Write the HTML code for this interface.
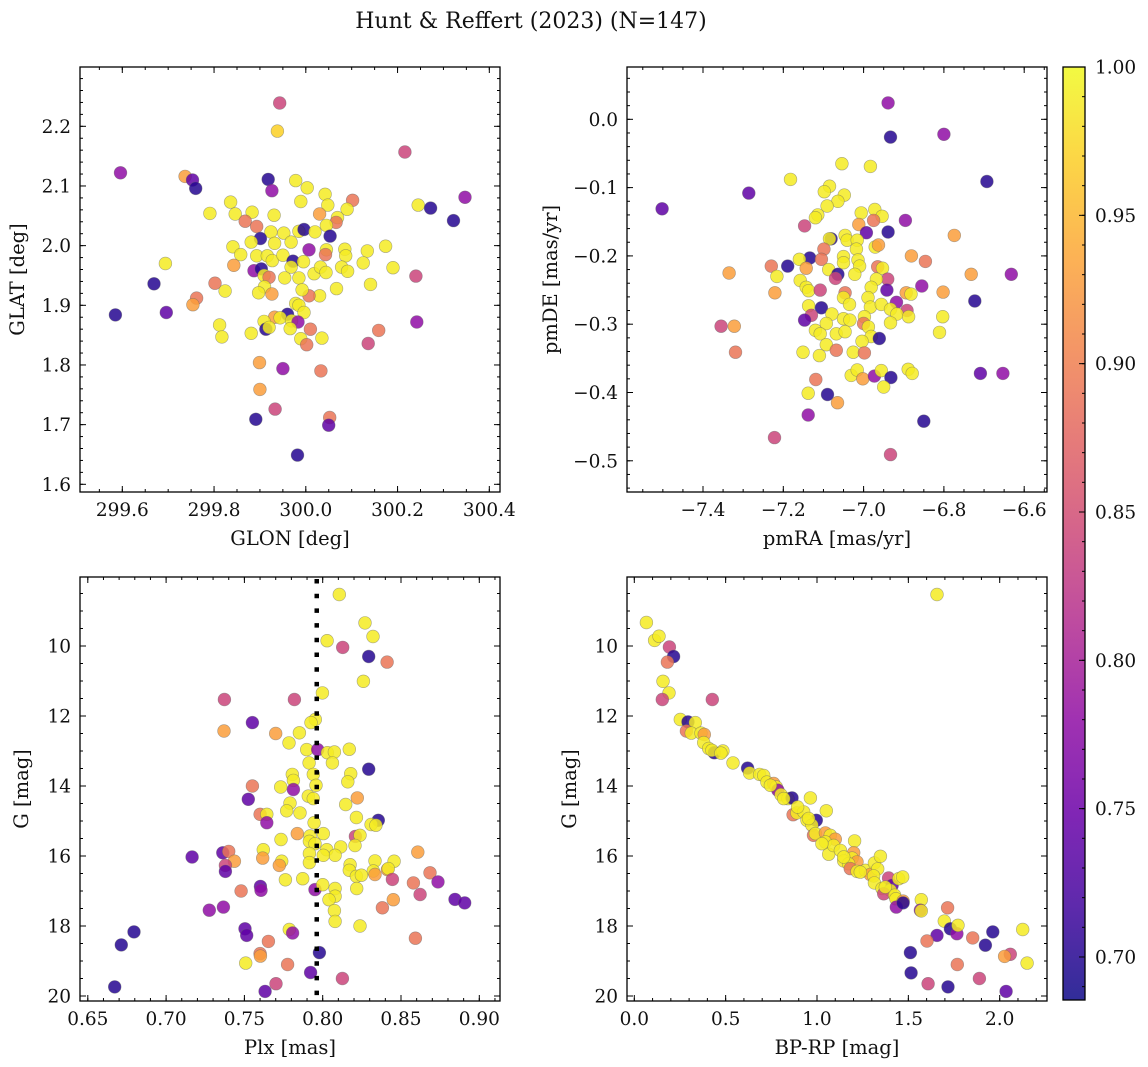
<!DOCTYPE html>
<html><head><meta charset="utf-8">
<style>
html,body{margin:0;padding:0;background:#fff;}
svg{display:block;font-family:"DejaVu Serif","Liberation Serif",serif;}
</style></head>
<body>
<svg id="fig" width="1148" height="1067" viewBox="0 0 1148 1067" xmlns="http://www.w3.org/2000/svg">
<text x="531" y="28" font-size="22" text-anchor="middle" fill="#111">Hunt &amp; Reffert (2023) (N=147)</text>
</svg>
<script>
// ---- Panel 1: GLON / GLAT ----
const glon = [299.943,299.938,300.216,299.596,299.737,299.753,299.760,299.918,299.926,300.347,300.245,300.272,300.322,299.978,300.003,300.042,300.048,300.102,299.989,299.836,299.791,299.846,299.883,299.931,299.868,299.893,300.030,300.090,300.069,300.066,300.045,299.924,299.952,299.985,299.996,300.020,300.053,299.901,299.881,299.841,299.858,299.893,299.932,299.968,300.007,300.045,300.043,300.085,300.134,300.174,300.087,300.125,300.190,299.694,299.669,299.585,299.696,299.762,299.754,299.802,299.824,299.843,299.916,299.927,299.950,299.972,299.995,299.968,299.887,299.903,299.909,299.920,299.954,299.985,300.018,300.032,300.044,300.078,300.091,300.141,300.067,300.030,300.007,299.992,299.910,299.897,299.926,300.240,300.242,299.978,299.985,299.996,299.960,299.932,299.944,299.969,299.983,299.909,299.913,299.920,299.966,299.812,299.817,299.881,300.010,299.989,300.002,300.035,300.159,300.136,299.899,299.950,300.033,299.900,299.933,299.891,300.052,300.050,299.982];
const glat = [2.239,2.192,2.157,2.122,2.116,2.110,2.096,2.111,2.092,2.081,2.068,2.063,2.042,2.109,2.097,2.086,2.068,2.076,2.074,2.073,2.054,2.053,2.056,2.051,2.041,2.032,2.053,2.061,2.047,2.039,2.034,2.023,2.021,2.024,2.027,2.023,2.016,2.012,2.006,1.998,1.985,1.983,2.004,2.006,1.993,1.993,1.985,1.994,1.991,1.999,1.983,1.971,1.963,1.970,1.936,1.884,1.888,1.912,1.901,1.937,1.924,1.967,1.983,1.975,1.984,1.974,1.973,1.964,1.958,1.961,1.950,1.947,1.946,1.946,1.953,1.964,1.955,1.964,1.957,1.935,1.928,1.916,1.916,1.926,1.931,1.921,1.919,1.949,1.872,1.903,1.900,1.888,1.885,1.880,1.879,1.874,1.872,1.873,1.860,1.863,1.861,1.867,1.847,1.853,1.860,1.844,1.834,1.845,1.858,1.836,1.804,1.794,1.790,1.759,1.726,1.709,1.712,1.699,1.649];
const prob1 = [.84,.97,.84,.78,.93,.74,.70,.70,.78,.78,.99,.70,.70,.99,.99,.99,.99,.89,.99,.99,.99,.99,.99,.99,.89,.89,.93,.99,.99,.89,.99,.99,.99,.99,.70,.99,.70,.70,.99,.99,.99,.99,.99,.99,.78,.99,.89,.99,.99,.99,.99,.99,.99,.99,.70,.70,.74,.89,.93,.89,.99,.93,.99,.99,.99,.70,.99,.99,.78,.70,.99,.89,.99,.99,.99,.99,.99,.99,.99,.99,.99,.99,.89,.99,.99,.99,.93,.84,.78,.99,.99,.99,.70,.93,.99,.99,.78,.99,.70,.99,.99,.99,.99,.99,.89,.99,.89,.99,.89,.84,.93,.78,.89,.93,.84,.70,.89,.74,.70];
// ---- Panel 2: pmRA / pmDE ----
const pmra = [-6.939,-6.933,-6.800,-6.693,-7.502,-7.286,-7.182,-7.054,-6.983,-7.085,-7.098,-7.048,-7.064,-7.091,-7.114,-7.120,-7.006,-6.972,-6.954,-6.975,-6.896,-7.147,-7.012,-6.993,-6.939,-6.774,-7.081,-7.085,-7.046,-7.041,-7.016,-6.971,-6.963,-7.018,-7.099,-7.134,-7.105,-7.160,-7.050,-7.050,-7.014,-7.010,-6.881,-6.846,-7.230,-7.189,-7.143,-7.335,-7.216,-7.087,-6.965,-6.953,-7.064,-7.070,-7.022,-6.940,-6.968,-6.732,-6.632,-7.158,-7.143,-7.137,-7.108,-7.046,-7.050,-6.981,-6.942,-6.855,-7.221,-6.894,-6.882,-6.802,-6.723,-7.035,-6.989,-6.983,-6.956,-6.918,-6.933,-6.892,-6.917,-6.888,-7.137,-7.105,-7.130,-7.147,-7.079,-7.050,-7.034,-6.998,-7.000,-6.988,-6.933,-6.803,-7.355,-7.322,-7.093,-7.120,-7.108,-7.068,-7.046,-6.981,-6.961,-6.811,-7.004,-7.093,-7.319,-7.151,-7.110,-7.068,-7.026,-6.998,-7.031,-7.016,-7.002,-6.973,-6.956,-6.932,-6.889,-6.879,-6.950,-7.119,-7.138,-7.090,-7.065,-6.709,-6.653,-7.138,-6.850,-7.222,-6.933];
const pmde = [0.024,-0.026,-0.022,-0.091,-0.131,-0.108,-0.088,-0.065,-0.069,-0.098,-0.106,-0.111,-0.120,-0.127,-0.140,-0.144,-0.137,-0.132,-0.142,-0.148,-0.148,-0.156,-0.154,-0.166,-0.165,-0.170,-0.175,-0.175,-0.170,-0.177,-0.177,-0.187,-0.184,-0.190,-0.190,-0.203,-0.205,-0.205,-0.201,-0.210,-0.206,-0.215,-0.200,-0.208,-0.215,-0.215,-0.218,-0.225,-0.230,-0.220,-0.216,-0.218,-0.227,-0.233,-0.227,-0.234,-0.234,-0.227,-0.227,-0.236,-0.246,-0.251,-0.250,-0.254,-0.261,-0.246,-0.250,-0.244,-0.254,-0.254,-0.256,-0.253,-0.266,-0.271,-0.261,-0.275,-0.271,-0.268,-0.278,-0.280,-0.285,-0.289,-0.273,-0.276,-0.287,-0.294,-0.285,-0.292,-0.294,-0.289,-0.299,-0.304,-0.298,-0.289,-0.303,-0.303,-0.299,-0.309,-0.314,-0.314,-0.311,-0.318,-0.321,-0.312,-0.325,-0.330,-0.341,-0.341,-0.346,-0.338,-0.341,-0.342,-0.375,-0.367,-0.380,-0.376,-0.368,-0.378,-0.366,-0.372,-0.392,-0.381,-0.401,-0.403,-0.415,-0.372,-0.372,-0.433,-0.442,-0.466,-0.491];
const prob2 = [.78,.70,.78,.70,.74,.74,.99,.99,.99,.99,.99,.99,.99,.99,.99,.99,.99,.99,.99,.89,.78,.84,.93,.74,.70,.93,.70,.99,.99,.99,.99,.99,.93,.99,.89,.70,.89,.99,.99,.99,.99,.99,.93,.89,.89,.70,.93,.93,.99,.99,.89,.99,.70,.84,.99,.84,.99,.93,.78,.99,.99,.99,.84,.89,.99,.99,.74,.78,.93,.93,.99,.93,.70,.99,.99,.99,.99,.78,.99,.84,.99,.99,.99,.70,.84,.74,.99,.99,.99,.99,.89,.99,.99,.99,.84,.93,.99,.99,.99,.99,.99,.99,.70,.99,.99,.99,.89,.99,.99,.89,.99,.89,.99,.99,.93,.78,.99,.70,.99,.99,.99,.89,.99,.70,.93,.74,.78,.78,.70,.84,.84];
// ---- Panel 3: Plx / G ----
const plx = [0.8106,0.8270,0.8321,0.8028,0.8128,0.8294,0.8411,0.8260,0.7372,0.7819,0.7998,0.7551,0.7370,0.7953,0.7925,0.7700,0.7851,0.7785,0.7898,0.7968,0.8030,0.8075,0.8062,0.8170,0.7913,0.8294,0.8179,0.8160,0.7940,0.7806,0.7813,0.7813,0.7732,0.7551,0.7525,0.7908,0.7940,0.7957,0.8221,0.8147,0.7791,0.7770,0.7855,0.7600,0.7643,0.7643,0.7945,0.8215,0.8355,0.8309,0.8340,0.7734,0.7838,0.7919,0.8004,0.7915,0.7951,0.8209,0.8238,0.8206,0.8115,0.8026,0.8079,0.8004,0.7915,0.7915,0.8607,0.7166,0.7362,0.7400,0.7436,0.7379,0.7379,0.7621,0.7617,0.7738,0.7723,0.8175,0.8170,0.8334,0.8323,0.8334,0.8215,0.8247,0.8413,0.8456,0.8419,0.8445,0.8685,0.8736,0.8579,0.8622,0.8845,0.8907,0.7762,0.7872,0.7479,0.7602,0.7606,0.7951,0.8000,0.8079,0.8079,0.8040,0.8217,0.8451,0.8381,0.8075,0.8079,0.8238,0.7276,0.7366,0.7504,0.7515,0.6795,0.6714,0.7653,0.7787,0.7808,0.8592,0.7600,0.7602,0.7508,0.7979,0.7776,0.7923,0.8126,0.7702,0.6672,0.7632];
const gmag3 = [8.53,9.34,9.73,9.85,10.04,10.30,10.46,11.01,11.53,11.53,11.34,12.19,12.43,12.10,12.19,12.50,12.48,12.77,12.96,12.96,13.05,13.03,13.34,12.95,13.34,13.52,13.65,13.88,13.67,13.67,13.84,14.10,14.03,14.00,14.38,14.29,14.36,13.98,14.34,14.53,14.49,14.71,14.77,14.81,14.81,15.05,15.05,14.90,14.98,15.10,15.12,15.53,15.36,15.43,15.36,15.58,15.65,15.44,15.41,15.70,15.74,15.82,15.98,15.98,15.93,16.19,15.89,16.03,15.91,15.87,16.15,16.27,16.44,15.82,16.06,16.15,16.27,16.25,16.41,16.14,16.43,16.53,16.58,16.55,16.39,16.15,16.36,16.67,16.48,16.74,16.77,17.10,17.24,17.34,16.68,16.65,17.00,16.87,16.98,16.96,16.82,16.93,17.15,17.25,16.93,17.25,17.48,17.56,17.87,18.00,17.55,17.46,18.08,18.27,18.17,18.54,18.44,18.10,18.20,18.35,18.79,18.86,19.06,18.76,19.10,19.33,19.50,19.65,19.74,19.87];
const prob3 = [.99,.99,.99,.99,.84,.70,.89,.99,.84,.84,.99,.74,.93,.99,.99,.93,.99,.99,.99,.78,.99,.99,.99,.99,.99,.70,.99,.99,.99,.99,.99,.78,.99,.89,.74,.99,.99,.99,.93,.99,.99,.99,.99,.89,.99,.78,.99,.99,.70,.99,.99,.99,.93,.99,.99,.99,.99,.84,.99,.99,.99,.99,.99,.99,.99,.99,.93,.74,.74,.89,.93,.84,.74,.99,.93,.99,.93,.99,.99,.99,.99,.93,.99,.99,.93,.99,.99,.84,.89,.78,.89,.84,.74,.74,.99,.99,.89,.74,.78,.78,.99,.99,.99,.99,.99,.93,.89,.99,.99,.99,.78,.78,.74,.74,.70,.70,.89,.99,.78,.89,.89,.93,.99,.70,.89,.74,.84,.84,.70,.74];
const plxRef = [0.7962];
// ---- Panel 4: BP-RP / G ----
const bprp = [1.657,0.066,0.111,0.135,0.192,0.215,0.181,0.157,0.190,0.153,0.427,0.252,0.294,0.334,0.285,0.312,0.365,0.383,0.380,0.407,0.438,0.425,0.485,0.474,0.540,0.620,0.631,0.686,0.708,0.726,0.763,0.777,0.786,0.803,0.841,0.863,0.964,0.869,0.890,0.927,0.996,1.051,0.945,0.972,0.981,0.991,1.046,1.073,1.100,1.046,1.064,1.091,1.128,1.206,1.201,1.192,1.219,1.146,1.173,1.182,1.219,1.265,1.292,1.314,1.347,1.332,1.310,1.314,1.356,1.392,1.411,1.401,1.365,1.425,1.447,1.469,1.432,1.471,1.434,1.471,1.571,1.566,1.571,1.715,1.697,1.730,1.766,1.772,1.657,1.602,1.852,1.962,1.922,2.126,1.511,2.058,2.027,2.150,1.768,1.515,1.889,1.608,1.717,2.035,0.745,0.818,0.894,0.954,1.027,1.237,1.146,1.374];
const gmag4 = [8.53,9.33,9.84,9.72,10.03,10.30,10.46,11.01,11.34,11.53,11.53,12.10,12.17,12.19,12.43,12.49,12.49,12.53,12.76,12.93,13.05,12.98,13.00,13.06,13.34,13.49,13.63,13.67,13.70,13.89,13.93,14.03,14.12,14.25,14.36,14.34,14.34,14.82,14.77,14.74,14.98,14.71,14.98,15.12,15.41,15.36,15.34,15.41,15.52,15.60,15.95,15.70,15.84,15.57,15.91,16.06,16.17,16.14,16.22,16.36,16.44,16.41,16.53,16.20,16.01,16.37,16.57,16.77,16.93,16.63,16.84,16.98,17.08,17.12,16.65,16.60,17.22,17.29,17.46,17.34,17.25,17.55,17.57,17.48,17.86,18.08,18.22,17.98,18.27,18.43,18.34,18.17,18.55,18.10,18.76,18.81,18.87,19.06,19.10,19.34,19.50,19.65,19.74,19.87,13.98,14.36,14.60,14.93,15.65,16.46,16.03,16.89];
const prob4 = [.99,.99,.99,.99,.84,.70,.89,.99,.99,.84,.84,.99,.70,.99,.89,.99,.99,.93,.99,.99,.70,.99,.99,.99,.99,.70,.99,.99,.99,.99,.93,.99,.78,.99,.99,.70,.99,.89,.99,.99,.70,.99,.99,.99,.89,.99,.93,.99,.93,.99,.99,.99,.99,.99,.93,.99,.93,.99,.99,.89,.99,.99,.93,.99,.99,.99,.99,.99,.99,.84,.74,.99,.84,.99,.99,.99,.99,.93,.78,.70,.99,.78,.99,.89,.99,.70,.78,.99,.74,.89,.89,.70,.70,.99,.70,.84,.93,.99,.89,.70,.84,.84,.70,.74,.99,.99,.99,.99,.99,.99,.99,.99];
// ---- Colorbar ----
const cbTicks = [0.70,0.75,0.80,0.85,0.90,0.95,1.00];
const cMin = 0.6855, cMax = 1.0;

const NS = "http://www.w3.org/2000/svg";
const svg = document.getElementById('fig');
const TICKFS = 18.5, LABFS = 19.5;
function mk(tag, attrs, parent){const e=document.createElementNS(NS,tag);for(const k in attrs)e.setAttribute(k,attrs[k]);(parent||svg).appendChild(e);return e;}
const plasmaStops=["#0d0887","#41049d","#6a00a8","#8f0da4","#b12a90","#cc4778","#e16462","#f2844b","#fca636","#fcce25","#f0f921"];
function hex(h){return [1,3,5].map(i=>parseInt(h.substr(i,2),16));}
function plasma(t){t=Math.max(0,Math.min(1,t));const f=t*10,i=Math.min(9,Math.floor(f)),r=f-i;const a=hex(plasmaStops[i]),b=hex(plasmaStops[i+1]);return "rgb("+a.map((v,k)=>Math.round(v+(b[k]-v)*r)).join(",")+")";}
function cnorm(p){return (p-cMin)/(cMax-cMin);}
function fmt(v,d){const s=Math.abs(v).toFixed(d);return (v< -1e-9?"\u2212":"")+s;}

function panel(cfg){
  const {name,L,T,W,H,xmin,xmax,ymin,ymax,yrev,xs,ys,ps,xMaj,xMin,xDec,yMaj,yMin,yDec,xlabel,ylabel,ylabX}=cfg;
  const sx=v=>L+(v-xmin)/(xmax-xmin)*W;
  const sy=v=>yrev? T+(v-ymin)/(ymax-ymin)*H : T+H-(v-ymin)/(ymax-ymin)*H;
  const g=mk('g',{});
  
  
  const clipId=name+'-clip';
  const cp=mk('clipPath',{id:clipId},g);mk('rect',{x:L,y:T,width:W,height:H},cp);
  const pts=mk('g',{'clip-path':'url(#'+clipId+')'},g);
  
  
  const n=Math.min(xs.length,ys.length,ps.length);
  for(let i=0;i<n;i++){
    const c=mk('circle',{cx:sx(xs[i]).toFixed(1),cy:sy(ys[i]).toFixed(1),r:6.4,fill:plasma(cnorm(ps[i])),'fill-opacity':0.85,stroke:'#666','stroke-opacity':0.55,'stroke-width':0.6},pts);
    
    
  }
  if(cfg.vline){for(const v of cfg.vline){const l=mk('line',{x1:sx(v),x2:sx(v),y1:T+2,y2:T+H,stroke:'#000','stroke-width':4.5,'stroke-dasharray':'4.5 10.2'},g);
    
    }}
  const tk=mk('g',{stroke:'#000','stroke-width':1},g);
  const eps=1e-9;
  function ticksX(step,len){const s=Math.ceil(xmin/step-eps);for(let k=s;k*step<=xmax+eps;k++){const x=sx(k*step);mk('line',{x1:x,x2:x,y1:T+H,y2:T+H-len},tk);mk('line',{x1:x,x2:x,y1:T,y2:T+len},tk);}}
  function ticksY(step,len){const s=Math.ceil(ymin/step-eps);for(let k=s;k*step<=ymax+eps;k++){const y=sy(k*step);mk('line',{x1:L,x2:L+len,y1:y,y2:y},tk);mk('line',{x1:L+W,x2:L+W-len,y1:y,y2:y},tk);}}
  ticksX(xMin,3);ticksX(xMaj,6);ticksY(yMin,3);ticksY(yMaj,6);
  const fr=mk('rect',{x:L,y:T,width:W,height:H,fill:'none',stroke:'#000','stroke-width':1.3},g);
  
  
  for(let k=Math.ceil(xmin/xMaj-eps);k*xMaj<=xmax+eps;k++){const v=k*xMaj;const t=mk('text',{x:sx(v),y:T+H+24,'font-size':TICKFS,'text-anchor':'middle',fill:'#111'},g);t.textContent=fmt(v,xDec);
    
    }
  for(let k=Math.ceil(ymin/yMaj-eps);k*yMaj<=ymax+eps;k++){const v=k*yMaj;const t=mk('text',{x:L-9,y:sy(v)+6.5,'font-size':TICKFS,'text-anchor':'end',fill:'#111'},g);t.textContent=fmt(v,yDec);
    
    }
  const xl=mk('text',{x:L+W/2,y:T+H+53,'font-size':LABFS,'text-anchor':'middle',fill:'#111'},g);xl.textContent=xlabel;
  
  
  const cy=T+H/2;
  const yl=mk('text',{x:ylabX,y:cy,'font-size':LABFS,'text-anchor':'middle',fill:'#111',transform:'rotate(-90 '+ylabX+' '+cy+')'},g);yl.textContent=ylabel;
  
  
}

panel({name:'glon-glat-panel',L:80,T:67,W:420,H:425,xmin:299.5078,xmax:300.4233,ymin:1.5871,ymax:2.2994,xs:glon,ys:glat,ps:prob1,xMaj:0.2,xMin:0.05,xDec:1,yMaj:0.1,yMin:0.02,yDec:1,xlabel:'GLON [deg]',ylabel:'GLAT [deg]',ylabX:24});
panel({name:'pm-panel',L:627,T:67,W:420,H:425,xmin:-7.5893,xmax:-6.5432,ymin:-0.5457,ymax:0.0766,xs:pmra,ys:pmde,ps:prob2,xMaj:0.2,xMin:0.05,xDec:1,yMaj:0.1,yMin:0.02,yDec:1,xlabel:'pmRA [mas/yr]',ylabel:'pmDE [mas/yr]',ylabX:557});
panel({name:'plx-g-panel',L:80,T:577,W:420,H:424,xmin:0.64502,xmax:0.91322,ymin:8.029,ymax:20.143,yrev:true,xs:plx,ys:gmag3,ps:prob3,xMaj:0.05,xMin:0.01,xDec:2,yMaj:2,yMin:0.5,yDec:0,xlabel:'Plx [mas]',ylabel:'G [mag]',ylabX:28,vline:plxRef});
panel({name:'cmd-panel',L:627,T:577,W:420,H:424,xmin:-0.03996,xmax:2.2589,ymin:8.029,ymax:20.143,yrev:true,xs:bprp,ys:gmag4,ps:prob4,xMaj:0.5,xMin:0.1,xDec:1,yMaj:2,yMin:0.5,yDec:0,xlabel:'BP-RP [mag]',ylabel:'G [mag]',ylabX:576});

(function(){
  const L=1063,T=67,W=22,B=1000;
  const defs=mk('defs',{});
  const lg=mk('linearGradient',{id:'cbgrad',x1:0,y1:1,x2:0,y2:0},defs);
  for(let i=0;i<=20;i++){mk('stop',{offset:i/20,'stop-color':plasma(i/20),'stop-opacity':0.85},lg);}
  const g=mk('g',{});
  
  
  mk('rect',{x:L,y:T,width:W,height:B-T,fill:'url(#cbgrad)'},g);
  const sy=v=>B-(v-cMin)/(cMax-cMin)*(B-T);
  for(let k=69;k<=100;k++){const y=sy(k/100);mk('line',{x1:L+W,x2:L+W-3,y1:y,y2:y,stroke:'#000','stroke-width':1},g);}
  for(const v of cbTicks){const y=sy(v);mk('line',{x1:L+W,x2:L+W-6,y1:y,y2:y,stroke:'#000','stroke-width':1},g);
    const t=mk('text',{x:L+W+10,y:y+6.5,'font-size':TICKFS,fill:'#111'},g);t.textContent=v.toFixed(2);
    
    }
  mk('rect',{x:L,y:T,width:W,height:B-T,fill:'none',stroke:'#000','stroke-width':1.3},g);
})();
</script>
</body></html>
